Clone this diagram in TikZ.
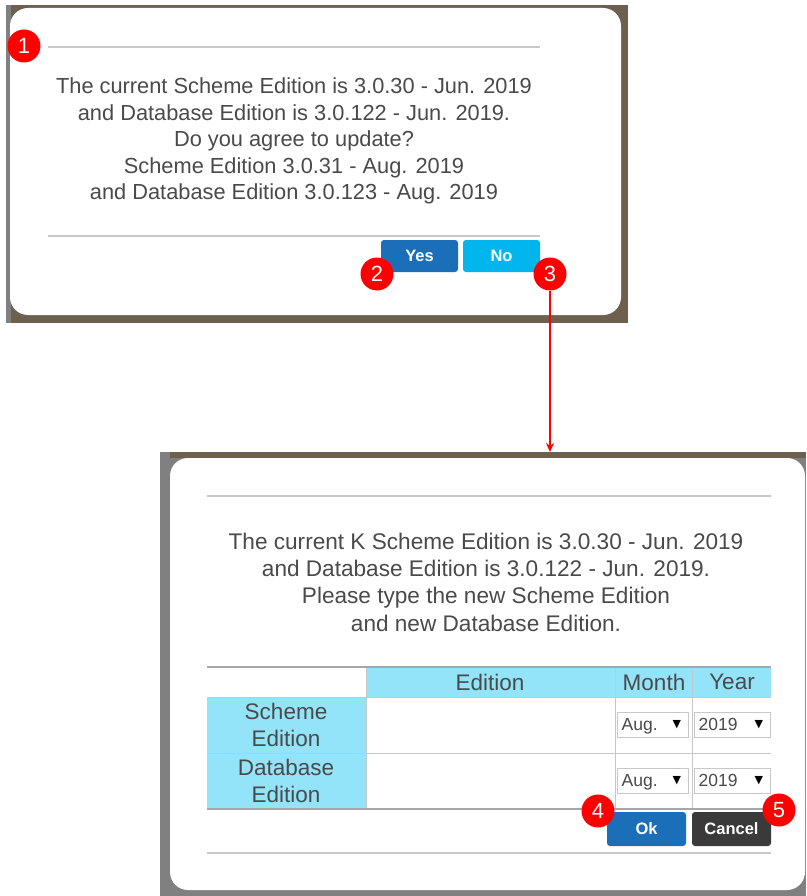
\documentclass[tikz,border=0pt]{standalone}
\usepackage{fontspec}
\setmainfont{Liberation Sans}
\newfontfamily\symfont{DejaVu Sans}
\usetikzlibrary{positioning,arrows.meta}

\definecolor{txtgray}{HTML}{4A4A4A}
\definecolor{rulegray}{HTML}{C8C8C8}
\definecolor{yesblue}{HTML}{1B6FB8}
\definecolor{noblue}{HTML}{00B6EC}
\definecolor{canceldark}{HTML}{3A3A3A}
\definecolor{cellcyan}{HTML}{93E3F9}
\definecolor{bgbrown}{HTML}{6E604E}
\definecolor{bggray}{HTML}{808080}

\tikzset{
  badge/.style={circle, fill=red, text=white, minimum size=33pt, inner sep=0pt,
    font=\fontsize{22}{22}\selectfont},
  button/.style={rounded corners=3pt, text=white, minimum width=77pt, minimum height=32pt,
    inner sep=0pt, font=\fontsize{16.5}{16.5}\selectfont\bfseries},
  msg/.style={align=center, text=txtgray, font=\fontsize{21.8}{26.5}\selectfont},
  cell/.style={text=txtgray, align=center, font=\fontsize{22.5}{27}\selectfont},
  dropbox/.style={draw=rulegray, fill=white, line width=1pt, minimum height=25pt,
    inner sep=0pt}
}

\begin{document}
\begin{tikzpicture}[x=1pt, y=-1pt]
\useasboundingbox (0,0) rectangle (806,896);

% First dialog
\fill[bgbrown] (6,5) rectangle (628,323);
\fill[bggray] (6,5) rectangle (11,323);
\fill[white] [rounded corners=18pt] (10,8) rectangle (621,315);
\draw[rulegray, line width=1.5pt] (48,47) -- (540,47);
\draw[rulegray, line width=1.5pt] (48,236) -- (540,236);
\node[msg] (question) at (294,141) {The current Scheme Edition is 3.0.30 - Jun. 2019\\
  and Database Edition is 3.0.122 - Jun. 2019.\\
  Do you agree to update?\\
  Scheme Edition 3.0.31 - Aug. 2019\\
  and Database Edition 3.0.123 - Aug. 2019};
\node[button, fill=yesblue] (yes) at (419.5,256) {Yes};
\node[button, fill=noblue] (no) at (501.5,256) {No};

% Second dialog
\fill[bggray] (160,452) rectangle (806,896);
\fill[bgbrown] (160,452) rectangle (806,458);
\fill[bggray] (160,452) rectangle (170,458);
\fill[white] [rounded corners=18pt] (170,458) rectangle (805,890);
\draw[rulegray, line width=1.5pt] (207,496) -- (771,496);
\draw[rulegray, line width=1.5pt] (207,853) -- (771,853);
\node[msg, font=\fontsize{22.6}{27.3}\selectfont] (typenew) at (486,582) {The current K Scheme Edition is 3.0.30 - Jun. 2019\\
  and Database Edition is 3.0.122 - Jun. 2019.\\
  Please type the new Scheme Edition\\
  and new Database Edition.};

% Table
\fill[cellcyan] (366,667) rectangle (771,697);
\fill[cellcyan] (207,697) rectangle (366,809);
\draw[rulegray, line width=1pt] (366,667) -- (366,809);
\draw[rulegray, line width=1pt] (615,667) -- (615,809);
\draw[rulegray, line width=1pt] (692,667) -- (692,809);
\draw[rulegray, line width=1pt] (207,697) -- (771,697);
\draw[rulegray, line width=1pt] (207,753) -- (771,753);
\draw[black!35, line width=2pt] (207,667) -- (771,667);
\draw[black!35, line width=2pt] (207,809) -- (771,809);
\node[cell] (edition) at (490,682) {Edition};
\node[cell] (month) at (654,682) {Month};
\node[cell] (year) at (732,682) {Year};
\node[cell] (scheme) at (286,725) {Scheme\\Edition};
\node[cell] (database) at (286,781) {Database\\Edition};
\node[dropbox, minimum width=71pt] (mon1) at (652.5,724.5) {};
\node[dropbox, minimum width=76pt] (yr1) at (732,724.5) {};
\node[dropbox, minimum width=71pt] (mon2) at (652.5,780.5) {};
\node[dropbox, minimum width=76pt] (yr2) at (732,780.5) {};
\foreach \drop/\val in {mon1/Aug., mon2/Aug., yr1/2019, yr2/2019}{
  \node[text=txtgray, font=\fontsize{17.5}{17.5}\selectfont, anchor=base west, inner sep=0pt] (\drop-val) at ([xshift=5pt,yshift=-6.3pt]\drop.west) {\val};
  \node[font=\symfont\fontsize{11}{11}\selectfont, anchor=east] (\drop-tri) at ([xshift=-4pt]\drop.east) {▼};
}
\node[button, fill=yesblue, minimum width=79pt, minimum height=34pt] (ok) at (646.5,829) {Ok};
\node[button, fill=canceldark, minimum width=79pt, minimum height=34pt] (cancel) at (731.5,829) {Cancel};

% Badges
\node[badge] (b1) at (24,46) {1};
\node[badge] (b2) at (377,274) {2};
\node[badge] (b3) at (550,274) {3};
\node[badge] (b4) at (598,811) {4};
\node[badge] (b5) at (779,810) {5};

% Arrow
\coordinate (dlgtop) at (550,452);
\draw[red, line width=1.3pt, -{Stealth[length=9pt,width=8pt]}] (b3) -- (dlgtop);
\end{tikzpicture}
\end{document}
